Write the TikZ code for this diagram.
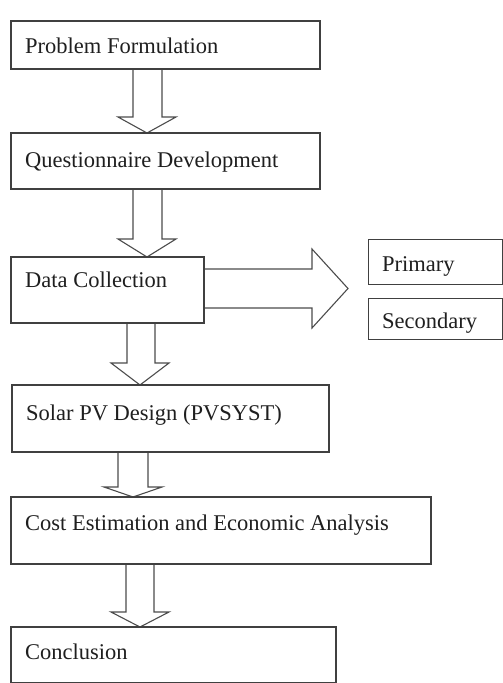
\documentclass[tikz,border=0pt]{standalone}
\usepackage{fontspec}
\setmainfont{Liberation Serif}
\begin{document}
\begin{tikzpicture}[x=1pt,y=-1pt,
  box/.style={draw=black!75,line width=1.2pt,fill=white,inner sep=0pt,anchor=north west},
  lbl/.style={anchor=base west,inner sep=0pt,font=\fontsize{22.5}{24}\selectfont,text=black!88},
  blk/.style={draw=black!70,line width=1.1pt,fill=white,line join=miter}]
\useasboundingbox (0,0) rectangle (503,683);
% boxes
\node[box,minimum width=308pt,minimum height=47pt] (b1) at (11,21) {};
\node[box,minimum width=308pt,minimum height=55pt] (b2) at (11,133) {};
\node[box,minimum width=192pt,minimum height=65pt] (b3) at (11,257) {};
\node[box,minimum width=134pt,minimum height=45pt] (p) at (368,239) {};
\node[box,minimum width=134pt,minimum height=41pt] (s) at (368,298) {};
\node[box,minimum width=316pt,minimum height=66pt] (b4) at (12,385) {};
\node[box,minimum width=419pt,minimum height=66pt] (b5) at (11,497) {};
\node[box,minimum width=324pt,minimum height=55pt] (b6) at (11,627) {};
% labels
\node[lbl] (t1) at ([shift={(14pt,-32pt)}]b1.north west) {Problem Formulation};
\node[lbl] (t2) at ([shift={(14pt,-34pt)}]b2.north west) {Questionnaire Development};
\node[lbl] (t3) at ([shift={(14pt,-30pt)}]b3.north west) {Data Collection};
\node[lbl] (tp) at ([shift={(14pt,-32pt)}]p.north west) {Primary};
\node[lbl] (ts) at ([shift={(14pt,-30pt)}]s.north west) {Secondary};
\node[lbl] (t4) at ([shift={(14pt,-35pt)}]b4.north west) {Solar PV Design (PVSYST)};
\node[lbl] (t5) at ([shift={(14pt,-33pt)}]b5.north west) {Cost Estimation and Economic Analysis};
\node[lbl] (t6) at ([shift={(14pt,-32pt)}]b6.north west) {Conclusion};
% block arrows
\draw[blk] (133,0 |- b1.south) -- (133,117) -- (118,117) -- (147,0 |- b2.north) -- (176,117) -- (162,117) -- (162,0 |- b1.south);
\draw[blk] (133,0 |- b2.south) -- (133,239) -- (118,239) -- (147,0 |- b3.north) -- (176,239) -- (162,239) -- (162,0 |- b2.south);
\draw[blk] (127,0 |- b3.south) -- (127,363) -- (111,363) -- (140,0 |- b4.north) -- (169,363) -- (155,363) -- (155,0 |- b3.south);
\draw[blk] (118,0 |- b4.south) -- (118,487) -- (104,487) -- (133,0 |- b5.north) -- (162,487) -- (148,487) -- (148,0 |- b4.south);
\draw[blk] (126,0 |- b5.south) -- (126,612) -- (111,612) -- (140,0 |- b6.north) -- (169,612) -- (154,612) -- (154,0 |- b5.south);
\coordinate (tip) at (348,288.5);
\draw[blk] (b3.east |- 0,269) -- (312,269) -- (312,249) -- (tip) -- (312,328) -- (312,308) -- (b3.east |- 0,308);
% redraw box borders over arrow ends
\foreach \n in {b1,b2,b3,b4,b5,b6}
  \draw[draw=black!75,line width=1.2pt] (\n.north west) rectangle (\n.south east);
\end{tikzpicture}
\end{document}
